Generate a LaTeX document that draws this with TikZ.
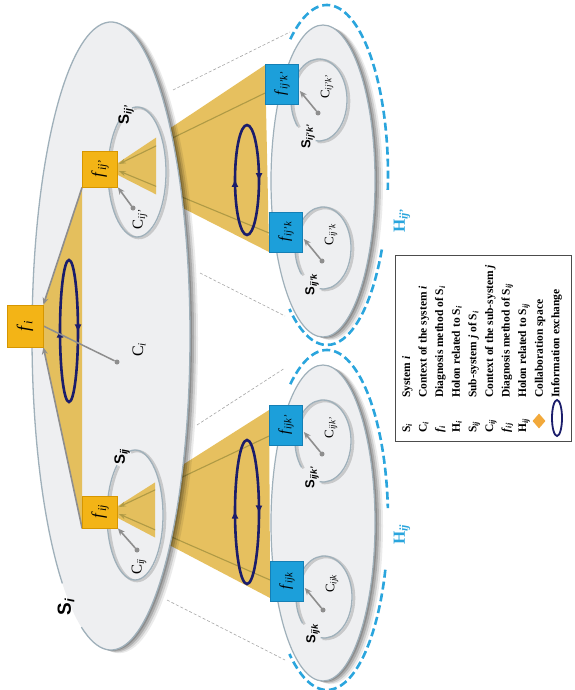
\documentclass[tikz,border=0pt]{standalone}
\usepackage{fontspec}
\setmainfont{Liberation Serif}
\setsansfont{Liberation Sans}
\usepackage{graphicx}
\usetikzlibrary{arrows.meta,calc,decorations.markings,shapes.geometric}
\definecolor{ellFill}{HTML}{EEEFF1}
\definecolor{ellLine}{HTML}{9FB0BA}
\definecolor{collab}{HTML}{E4BA4E}
\definecolor{oliveL}{HTML}{AF9A45}
\definecolor{navy}{HTML}{1B1D6B}
\definecolor{hblue}{HTML}{2AA5DD}
\definecolor{boxBlue}{HTML}{1C9FDA}
\definecolor{boxBlueD}{HTML}{157FB5}
\definecolor{boxOr}{HTML}{F3B416}
\definecolor{boxOrD}{HTML}{D69600}
\definecolor{arrGray}{HTML}{8E8E8E}
\definecolor{legDiamond}{HTML}{F2A93B}
\pgfdeclarelayer{layA}
\pgfdeclarelayer{layB}
\pgfdeclarelayer{layC}
\pgfdeclarelayer{layF}
\pgfsetlayers{layA,layB,layC,main,layF}
\makeatletter
\newcommand\sbs[1]{\pgfmathsetmacro\sbsz{0.7*\f@size}\raisebox{-0.35ex}{\fontsize{\sbsz}{\sbsz}\selectfont\itshape #1}}
\makeatother
% elliptical arc: #1 options, #2 cx, #3 cy, #4 rx, #5 ry, #6 start, #7 end
\newcommand\earc[7]{\draw[#1] ([shift={(#6:#4 and #5)}]#2,#3) arc[start angle=#6, end angle=#7, x radius=#4, y radius=#5];}
% soft shadow of an ellipse
\newcommand\eshadow[4]{\foreach \dd/\oo in {2/0.18,4/0.16,6/0.12,8/0.08}{\fill[black,opacity=\oo] (#1+\dd,#2+0.4*\dd) ellipse[x radius=#3, y radius=#4];}}
% group inside a zoomed sub-system: #1 box name, #2 bx, #3 by, #4 subscript, #5 id
\newcommand\bluegrp[5]{%
  \begin{pgfonlayer}{layB}
    \earc{draw=black!55, line width=2.6pt, opacity=0.3}{#2+39}{#3+17}{28}{41}{97}{-220}
    \earc{draw=ellLine, line width=1.3pt}{#2+37}{#3+16}{28}{41}{97}{-220}
  \end{pgfonlayer}
  \node[dotn] (d#5) at (#2+36,#3+29) {};
  \node[clab, font=\fontsize{13}{13}\selectfont] (c#5) at (#2+45,#3+3) {C\sbs{#4}};
  \node[slab, font=\fontsize{13}{13}\selectfont\sffamily\bfseries] (s#5) at (#2+26,#3+53) {S\sbs{#4}};
  \draw[garrow] (d#5) -- ($(#1.east)+(1,7)$);
}
\begin{document}
\begin{tikzpicture}[x=1pt,y=-1pt,
  obox/.style={draw=boxOrD, line width=0.8pt, fill=boxOr, inner sep=0pt},
  bbox/.style={draw=boxBlueD, line width=0.8pt, fill=boxBlue, inner sep=0pt, minimum width=33pt, minimum height=40pt, font=\fontsize{15}{15}\selectfont},
  collabfill/.style={fill=collab, fill opacity=0.9},
  oliveln/.style={draw=oliveL, line width=1.1pt},
  oarrow/.style={draw=oliveL, line width=1.1pt, -{Stealth[length=7pt,width=5pt]}},
  garrow/.style={draw=arrGray, line width=1.6pt, -{Stealth[length=7pt,width=6pt]}},
  gline/.style={draw=arrGray, line width=1.5pt},
  dotn/.style={circle, fill=arrGray, inner sep=0pt, minimum size=5pt},
  zoomln/.style={draw=gray!70, line width=0.6pt, dash pattern=on 3pt off 2pt},
  hdash/.style={draw=hblue, line width=2.6pt, dash pattern=on 8pt off 4pt},
  navyx/.style={draw=navy, line width=2.6pt, postaction={decorate},
    decoration={markings,
      mark=at position 0.005 with {\arrow{Latex[length=8pt,width=7pt]}},
      mark=at position 0.505 with {\arrow{Latex[length=8pt,width=7pt]}}}},
  slab/.style={rotate=90, inner sep=1pt},
  clab/.style={rotate=90, inner sep=1pt},
  hlab/.style={rotate=90, text=hblue, font=\fontsize{17}{17}\selectfont\bfseries, inner sep=1pt},
  legt/.style={rotate=90, font=\fontsize{11.5}{12}\selectfont\bfseries, inner sep=0pt},
]
\useasboundingbox (0,0) rectangle (574,690);
\begin{pgfonlayer}{layA}
  \fill[white] (0,0) rectangle (574,690);
\end{pgfonlayer}

% ---------------- boxes (front layer) ----------------
\begin{pgfonlayer}{layF}
  \node[obox, minimum width=36pt, minimum height=42pt] (fi) at (25,326)
    {\rotatebox{90}{\fontsize{18}{18}\selectfont\textit{f}\sbs{i}}};
  \node[obox, minimum width=35pt, minimum height=36pt] (fijp) at (100,169)
    {\rotatebox{90}{\fontsize{17}{17}\selectfont\textit{f}\sbs{ij'}}};
  \node[obox, minimum width=35pt, minimum height=32pt] (fij) at (100,512)
    {\rotatebox{90}{\fontsize{17}{17}\selectfont\textit{f}\sbs{ij}}};
  \node[bbox] (fijpkp) at (282,84) {\rotatebox{90}{\textit{f}\sbs{ij'k'}}};
  \node[bbox] (fijpk) at (286,232) {\rotatebox{90}{\textit{f}\sbs{ij'k}}};
  \node[bbox] (fijkp) at (286,425) {\rotatebox{90}{\textit{f}\sbs{ijk'}}};
  \node[bbox] (fijk) at (287,581) {\rotatebox{90}{\textit{f}\sbs{ijk}}};
\end{pgfonlayer}

% ---------------- back layer: outer collaboration spaces ----------------
\begin{pgfonlayer}{layA}
  \fill[collabfill] ($(fijp.east)+(0,-6)$) -- ($(fijpkp.west)+(0,-19)$) -- ($(fijpk.west)+(0,20)$) -- ($(fijp.east)+(0,6)$) -- cycle;
  \fill[collabfill] ($(fij.east)+(0,-6)$) -- ($(fijkp.west)+(0,-15)$) -- ($(fijk.west)+(0,17)$) -- ($(fij.east)+(0,6)$) -- cycle;
  \draw[oliveln] ($(fijpkp.west)+(0,9)$) -- ($(fijp.east)+(1,-5)$);
  \draw[oliveln] ($(fijpk.west)+(0,1)$) -- ($(fijp.east)+(1,2)$);
  \draw[oliveln] ($(fijkp.west)+(0,11)$) -- ($(fij.east)+(1,-5)$);
  \draw[oliveln] ($(fijk.west)+(0,-1)$) -- ($(fij.east)+(1,2)$);
  \coordinate (z1a) at (173,90);  \coordinate (z1b) at (290,32);
  \coordinate (z2a) at (200,273); \coordinate (z2b) at (285,316);
  \coordinate (z3a) at (197,425); \coordinate (z3b) at (285,368);
  \coordinate (z4a) at (167,600); \coordinate (z4b) at (285,660);
  \draw[zoomln] (z1a) -- (z1b);
  \draw[zoomln] (z2a) -- (z2b);
  \draw[zoomln] (z3a) -- (z3b);
  \draw[zoomln] (z4a) -- (z4b);
\end{pgfonlayer}

% ---------------- ellipses ----------------
\begin{pgfonlayer}{layB}
  % upper zoomed sub-system
  \eshadow{323}{181}{52}{156}
  \fill[ellFill] (323,181) ellipse[x radius=52, y radius=156];
  \draw[ellLine, line width=1.2pt] (323,181) ellipse[x radius=52, y radius=156];
  \earc{hdash}{327}{175}{61}{170}{-127}{5}
  \earc{hdash}{327}{175}{61}{170}{26}{128}
  % lower zoomed sub-system
  \eshadow{323}{523}{52}{158}
  \fill[ellFill] (323,523) ellipse[x radius=52, y radius=158];
  \draw[ellLine, line width=1.2pt] (323,523) ellipse[x radius=52, y radius=158];
  \earc{hdash}{327}{520}{61}{170}{-127}{-4}
  \earc{hdash}{327}{520}{61}{170}{17}{128}
  % system S_i
  \eshadow{111}{336}{79}{314}
  \fill[ellFill] (111,336) ellipse[x radius=79, y radius=314];
  \earc{draw=ellLine, line width=1.3pt}{111}{336}{79}{314}{128}{472}
\end{pgfonlayer}

% ---------------- inside S_i ----------------
\begin{pgfonlayer}{layC}
  \fill[collabfill] (fijp.south west) -- (fi.north east) -- (fi.south east) -- (fij.south west) -- cycle;
  \begin{scope}
    \clip (117,60) rectangle (156,260);
    \fill[collabfill] ($(fijp.east)+(0,-6)$) -- ($(fijpkp.west)+(0,-19)$) -- ($(fijpk.west)+(0,20)$) -- ($(fijp.east)+(0,6)$) -- cycle;
    \draw[oarrow] ($(fijpkp.west)+(0,9)$) -- ($(fijp.east)+(1,-5)$);
    \draw[oarrow] ($(fijpk.west)+(0,1)$) -- ($(fijp.east)+(1,2)$);
  \end{scope}
  \begin{scope}
    \clip (117,400) rectangle (155,620);
    \fill[collabfill] ($(fij.east)+(0,-6)$) -- ($(fijkp.west)+(0,-15)$) -- ($(fijk.west)+(0,17)$) -- ($(fij.east)+(0,6)$) -- cycle;
    \draw[oarrow] ($(fijkp.west)+(0,11)$) -- ($(fij.east)+(1,-5)$);
    \draw[oarrow] ($(fijk.west)+(0,-1)$) -- ($(fij.east)+(1,2)$);
  \end{scope}
  % sub-system outlines
  \earc{draw=black!55, line width=2.6pt, opacity=0.3}{139}{173}{29}{65}{-100}{235}
  \earc{draw=ellLine, line width=1.3pt}{137}{172}{29}{65}{-100}{235}
  \earc{draw=black!55, line width=2.6pt, opacity=0.3}{137}{516}{28}{65}{-102}{230}
  \earc{draw=ellLine, line width=1.3pt}{135}{515}{28}{65}{-102}{230}
  % information exchanges
  \draw[navyx] (69,331) ellipse[x radius=9, y radius=71];
  \draw[navyx] (247,180) ellipse[x radius=12, y radius=55];
  \draw[navyx] (247,512) ellipse[x radius=12, y radius=72];
\end{pgfonlayer}

% ---------------- connectors and labels ----------------
\draw[garrow] (fijp.south west) -- (fi.north east);
\draw[garrow] (fij.south west) -- (fi.south east);
\node[dotn] (dci) at (117,362) {};
\draw[gline] (fi.east) -- (dci);
\node[clab, font=\fontsize{16}{16}\selectfont] (lci) at (139,350) {C\sbs{i}};
\node[slab, font=\fontsize{19}{19}\selectfont\sffamily\bfseries] (lsi) at (66,607) {S\sbs{i}};

\node[dotn] (dcijp) at (133,208) {};
\draw[garrow] (dcijp) -- (fijp.south east);
\node[clab, font=\fontsize{15}{15}\selectfont] (lcijp) at (140,220) {C\sbs{ij'}};
\node[slab, font=\fontsize{15}{15}\selectfont\sffamily\bfseries] (lsijp) at (126,115) {S\sbs{ij'}};

\node[dotn] (dcij) at (137,550) {};
\draw[garrow] (dcij) -- (fij.south east);
\node[clab, font=\fontsize{15}{15}\selectfont] (lcij) at (139,567) {C\sbs{ij}};
\node[slab, font=\fontsize{15}{15}\selectfont\sffamily\bfseries] (lsij) at (122,457) {S\sbs{ij}};

\bluegrp{fijpkp}{282}{84}{ij'k'}{g1}
\bluegrp{fijpk}{286}{232}{ij'k}{g2}
\bluegrp{fijkp}{286}{425}{ijk'}{g3}
\bluegrp{fijk}{287}{581}{ijk}{g4}

\node[hlab] (hijp) at (402,221) {H\sbs{ij'}};
\node[hlab] (hij) at (402,535) {H\sbs{ij}};

% ---------------- legend ----------------
\draw[black!70, line width=0.8pt] (395,255) rectangle (571,441);
\foreach \k/\sym/\txt in {
  0/{S\sbs{i}}/{System \textit{i}},
  1/{C\sbs{i}}/{Context of the system \textit{i}},
  2/{\textit{f}\sbs{i}}/{Diagnosis method of S\sbs{i}},
  3/{H\sbs{i}}/{Holon related to S\sbs{i}},
  4/{S\sbs{ij}}/{Sub-system \textit{j} of S\sbs{i}},
  5/{C\sbs{ij}}/{Context of the sub-system \textit{j}},
  6/{\textit{f}\sbs{ij}}/{Diagnosis method of S\sbs{ij}},
  7/{H\sbs{ij}}/{Holon related to S\sbs{ij}}}{
  \node[legt, anchor=base west] (legs\k) at (410+16.6*\k, 433) {\sym};
  \node[legt, anchor=base west] (legt\k) at (410+16.6*\k, 398) {\txt};
}
\node[diamond, fill=legDiamond, minimum width=13pt, minimum height=15pt, inner sep=0pt] (legs8) at (539,421) {};
\node[legt, anchor=base west] (legt8) at (410+16.6*8, 398) {Collaboration space};
\node[draw=navy, line width=1.8pt, ellipse, minimum width=10pt, minimum height=36pt, inner sep=0pt] (legs9) at (557,418) {};
\node[legt, anchor=base west] (legt9) at (410+16.6*9, 398) {Information exchange};
\end{tikzpicture}
\end{document}
